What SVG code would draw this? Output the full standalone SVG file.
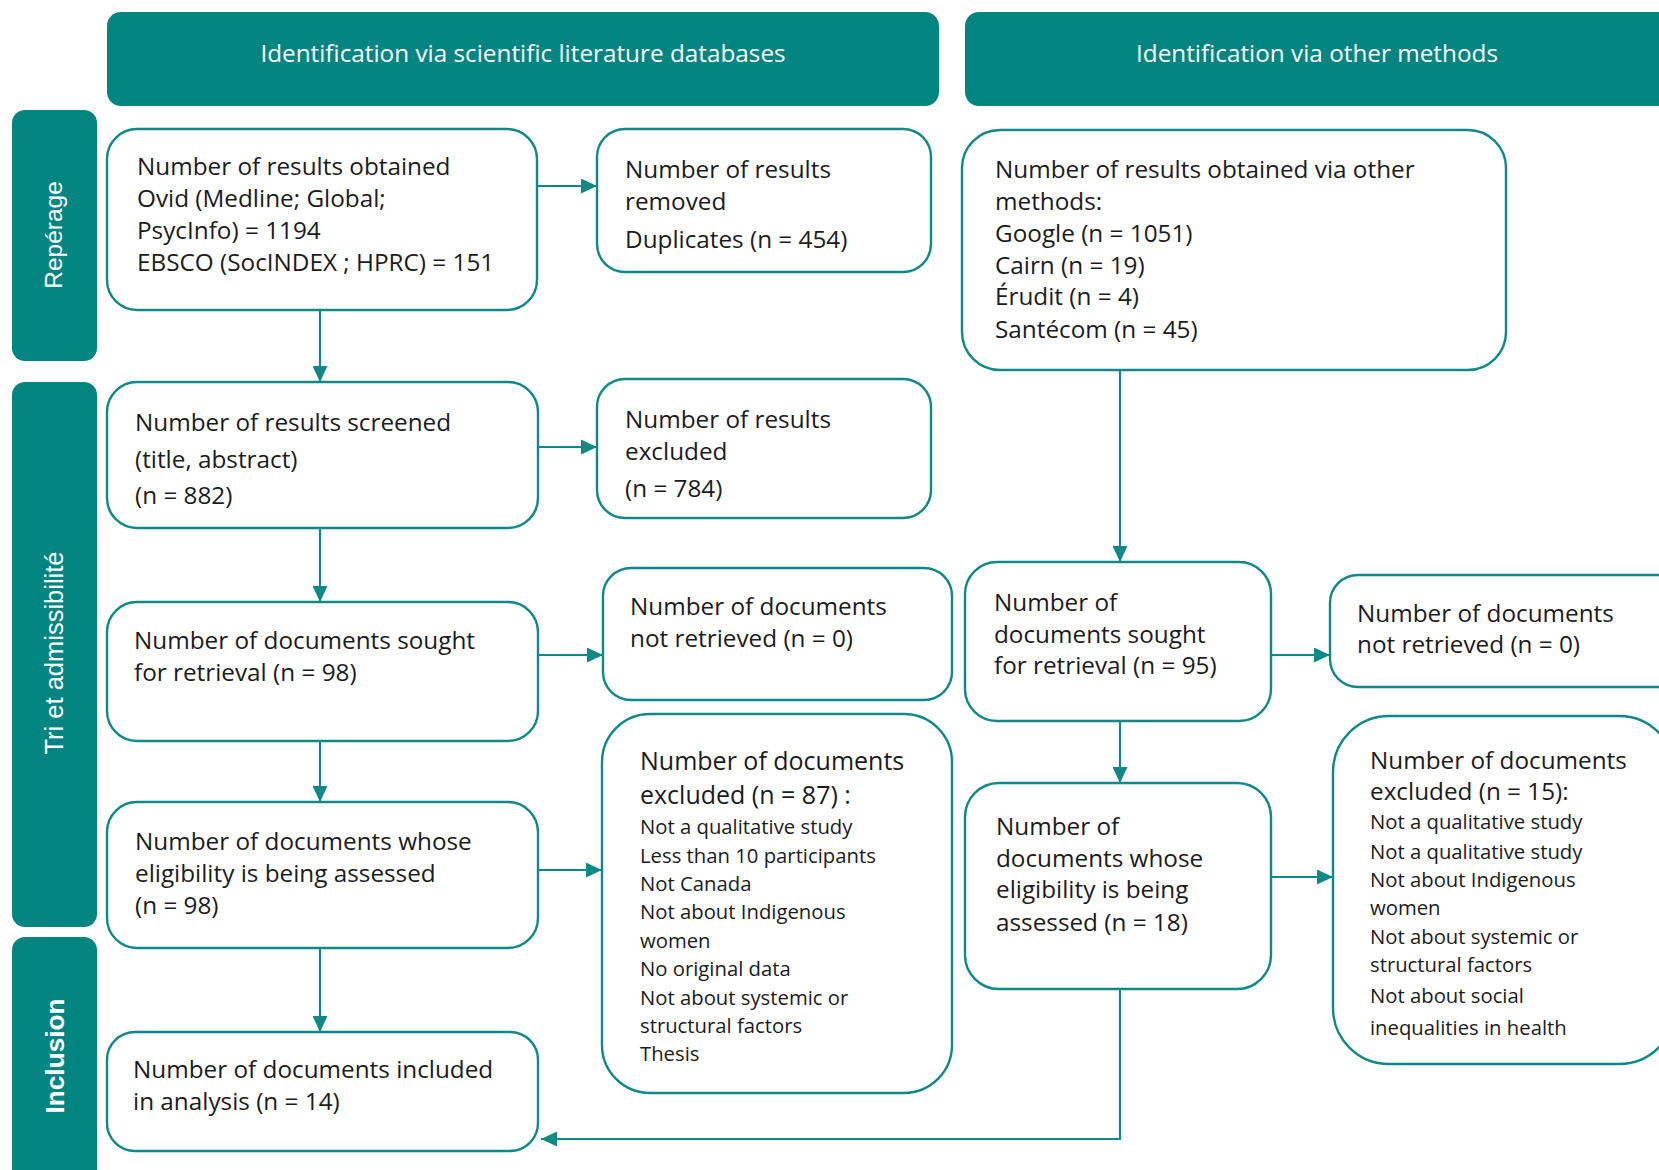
<svg xmlns="http://www.w3.org/2000/svg" width="1659" height="1170" viewBox="0 0 1659 1170">
<defs>
<style>
.hdr{fill:#028481;}
.band{fill:#028481;}
.hdrt{fill:#fff;font-family:"Open Sans","Noto Sans",sans-serif;font-size:24.3px;text-anchor:middle;}
.bandt{fill:#fff;font-family:"Liberation Sans",Arial,sans-serif;font-size:24.5px;text-anchor:middle;}
.box{fill:#fff;stroke:#0f8886;stroke-width:2.4;}
.t{fill:#1b1b1b;font-family:"Open Sans","Noto Sans",sans-serif;font-size:24.3px;}
.tb{fill:#1b1b1b;font-family:"Open Sans","Noto Sans",sans-serif;font-size:25px;}
.ts{fill:#1b1b1b;font-family:"Open Sans","Noto Sans",sans-serif;font-size:20.3px;}
.c{fill:none;stroke:#0f8886;stroke-width:2.2;}
</style>
<marker id="ah" markerUnits="userSpaceOnUse" markerWidth="17" markerHeight="15" refX="16" refY="7.5" orient="auto">
<path d="M0,0 L16,7.5 L0,15 z" fill="#0f8886"/>
</marker>
</defs>
<rect width="1659" height="1170" fill="#fff"/>

<g id="header-databases">
<rect class="hdr" x="107" y="12" width="832" height="94" rx="14"/>
<text class="hdrt" x="523" y="62">Identification via scientific literature databases</text>
</g>
<g id="header-other">
<rect class="hdr" x="965" y="12" width="730" height="94" rx="14"/>
<text class="hdrt" x="1317" y="62">Identification via other methods</text>
</g>

<g id="band-reperage">
<rect class="band" x="12" y="110" width="85" height="251" rx="13"/>
<text class="bandt" transform="translate(62,235) rotate(-90)">Repérage</text>
</g>
<g id="band-tri">
<rect class="band" x="12" y="382" width="85" height="545" rx="13"/>
<text class="bandt" style="font-size:25.5px" transform="translate(63,653) rotate(-90)">Tri et admissibilité</text>
</g>
<g id="band-inclusion">
<rect class="band" x="12" y="937" width="85" height="260" rx="13"/>
<text class="bandt" style="font-size:26.2px;font-weight:bold" transform="translate(64,1056) rotate(-90)">Inclusion</text>
</g>

<g id="connectors">
<path class="c" marker-end="url(#ah)" d="M537,186 H597"/>
<path class="c" marker-end="url(#ah)" d="M320,310 V382"/>
<path class="c" marker-end="url(#ah)" d="M538,447 H597"/>
<path class="c" marker-end="url(#ah)" d="M320,528 V602"/>
<path class="c" marker-end="url(#ah)" d="M538,655 H603"/>
<path class="c" marker-end="url(#ah)" d="M320,741 V802"/>
<path class="c" marker-end="url(#ah)" d="M538,870 H602"/>
<path class="c" marker-end="url(#ah)" d="M320,948 V1032"/>
<path class="c" marker-end="url(#ah)" d="M1120,370 V562"/>
<path class="c" marker-end="url(#ah)" d="M1271,655 H1330"/>
<path class="c" marker-end="url(#ah)" d="M1120,721 V783"/>
<path class="c" marker-end="url(#ah)" d="M1271,877 H1333"/>
<path class="c" marker-end="url(#ah)" d="M1120,989 V1139 H541"/>
</g>

<g id="node-obtained">
<rect class="box" x="107" y="129" width="430" height="181" rx="30"/>
<text class="t" x="137" y="175">Number of results obtained</text>
<text class="t" x="137" y="207">Ovid (Medline; Global;</text>
<text class="t" x="137" y="239">PsycInfo) = 1194</text>
<text class="t" x="137" y="271">EBSCO (SocINDEX ; HPRC) = 151</text>
</g>
<g id="node-removed">
<rect class="box" x="597" y="129" width="334" height="143" rx="28"/>
<text class="t" x="625" y="178">Number of results</text>
<text class="t" x="625" y="210">removed</text>
<text class="t" x="625" y="248">Duplicates (n = 454)</text>
</g>
<g id="node-screened">
<rect class="box" x="107" y="382" width="431" height="146" rx="30"/>
<text class="t" x="135" y="431">Number of results screened</text>
<text class="t" x="135" y="468">(title, abstract)</text>
<text class="t" x="135" y="504">(n = 882)</text>
</g>
<g id="node-excluded-results">
<rect class="box" x="597" y="379" width="334" height="139" rx="28"/>
<text class="t" x="625" y="428">Number of results</text>
<text class="t" x="625" y="460">excluded</text>
<text class="t" x="625" y="497">(n = 784)</text>
</g>
<g id="node-sought-db">
<rect class="box" x="107" y="602" width="431" height="139" rx="30"/>
<text class="t" x="134" y="649">Number of documents sought</text>
<text class="t" x="134" y="681">for retrieval (n = 98)</text>
</g>
<g id="node-notretrieved-db">
<rect class="box" x="603" y="568" width="349" height="132" rx="28"/>
<text class="t" x="630" y="615">Number of documents</text>
<text class="t" x="630" y="647">not retrieved (n = 0)</text>
</g>
<g id="node-eligibility-db">
<rect class="box" x="107" y="802" width="431" height="146" rx="30"/>
<text class="t" x="135" y="850">Number of documents whose</text>
<text class="t" x="135" y="882">eligibility is being assessed</text>
<text class="t" x="135" y="914">(n = 98)</text>
</g>
<g id="node-excluded-db">
<rect class="box" x="602" y="714" width="350" height="379" rx="48"/>
<text class="tb" x="640" y="770">Number of documents</text>
<text class="tb" x="640" y="804">excluded (n = 87) :</text>
<text class="ts" x="640" y="834">Not a qualitative study</text>
<text class="ts" x="640" y="863">Less than 10 participants</text>
<text class="ts" x="640" y="891">Not Canada</text>
<text class="ts" x="640" y="919">Not about Indigenous</text>
<text class="ts" x="640" y="948">women</text>
<text class="ts" x="640" y="976">No original data</text>
<text class="ts" x="640" y="1005">Not about systemic or</text>
<text class="ts" x="640" y="1033">structural factors</text>
<text class="ts" x="640" y="1061">Thesis</text>
</g>
<g id="node-included">
<rect class="box" x="107" y="1032" width="431" height="119" rx="28"/>
<text class="t" x="133" y="1078">Number of documents included</text>
<text class="t" x="133" y="1110">in analysis (n = 14)</text>
</g>

<g id="node-other-obtained">
<rect class="box" x="962" y="130" width="544" height="240" rx="38"/>
<text class="t" x="995" y="178">Number of results obtained via other</text>
<text class="t" x="995" y="210">methods:</text>
<text class="t" x="995" y="242">Google (n = 1051)</text>
<text class="t" x="995" y="274">Cairn (n = 19)</text>
<text class="t" x="995" y="305">Érudit (n = 4)</text>
<text class="t" x="995" y="338">Santécom (n = 45)</text>
</g>
<g id="node-sought-other">
<rect class="box" x="965" y="562" width="306" height="159" rx="32"/>
<text class="t" x="994" y="611">Number of</text>
<text class="t" x="994" y="643">documents sought</text>
<text class="t" x="994" y="674">for retrieval (n = 95)</text>
</g>
<g id="node-notretrieved-other">
<rect class="box" x="1330" y="575" width="360" height="112" rx="28"/>
<text class="t" x="1357" y="622">Number of documents</text>
<text class="t" x="1357" y="653">not retrieved (n = 0)</text>
</g>
<g id="node-eligibility-other">
<rect class="box" x="965" y="783" width="306" height="206" rx="34"/>
<text class="t" x="996" y="835">Number of</text>
<text class="t" x="996" y="867">documents whose</text>
<text class="t" x="996" y="898">eligibility is being</text>
<text class="t" x="996" y="931">assessed (n = 18)</text>
</g>
<g id="node-excluded-other">
<rect class="box" x="1333" y="716" width="342" height="348" rx="56"/>
<text class="t" x="1370" y="769">Number of documents</text>
<text class="t" x="1370" y="800">excluded (n = 15):</text>
<text class="ts" x="1370" y="829">Not a qualitative study</text>
<text class="ts" x="1370" y="859">Not a qualitative study</text>
<text class="ts" x="1370" y="887">Not about Indigenous</text>
<text class="ts" x="1370" y="915">women</text>
<text class="ts" x="1370" y="944">Not about systemic or</text>
<text class="ts" x="1370" y="972">structural factors</text>
<text class="ts" x="1370" y="1003">Not about social</text>
<text class="ts" x="1370" y="1035">inequalities in health</text>
</g>
</svg>
